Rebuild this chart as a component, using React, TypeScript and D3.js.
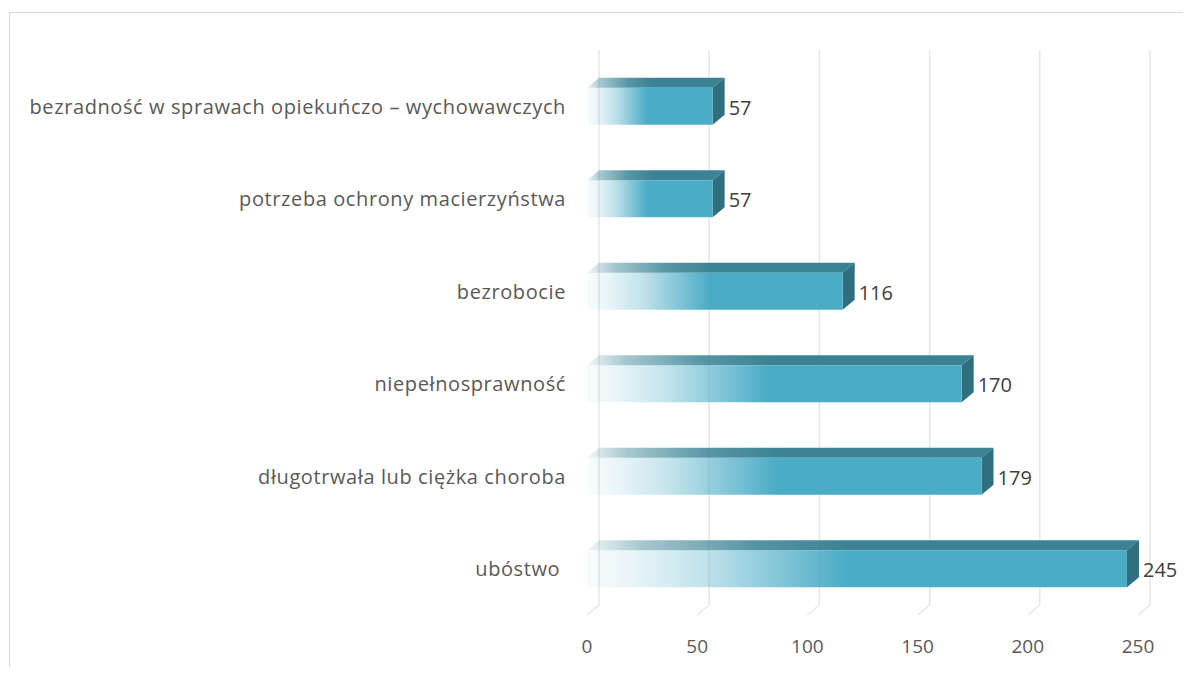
import React from "react";
import * as d3 from "d3";

const categories = [
  "bezradność w sprawach opiekuńczo – wychowawczych",
  "potrzeba ochrony macierzyństwa",
  "bezrobocie",
  "niepełnosprawność",
  "długotrwała lub ciężka choroba",
  "ubóstwo ",
];
const values = [57, 57, 116, 170, 179, 245];
const ticks = [0, 50, 100, 150, 200, 250];

const FRONT = "#4BACC6";
const TOP = "#3A8294";
const SIDE = "#2F6F7F";

export default function App() {
  // page coordinates; svg sits at (8,8)
  const dx = 12;
  const dy = -10;
  const x = d3.scaleLinear().domain([0, 250]).range([587, 1138]);
  const y = d3
    .scaleBand<string>()
    .domain(categories)
    .range([60, 615])
    .paddingInner(0.6)
    .paddingOuter(0.3);
  const bw = y.bandwidth();
  const gridTop = 50;
  const gridBottom = 615;

  return (
    <svg width={1175} height={659} style={{ display: "block" }}>
      <defs>
        <linearGradient id="frontGrad" x1="0" x2="1" y1="0" y2="0">
          <stop offset="0" stopColor={FRONT} stopOpacity={0.04} />
          <stop offset="0.08" stopColor={FRONT} stopOpacity={0.12} />
          <stop offset="0.22" stopColor={FRONT} stopOpacity={0.35} />
          <stop offset="0.36" stopColor={FRONT} stopOpacity={0.7} />
          <stop offset="0.48" stopColor={FRONT} stopOpacity={1} />
          <stop offset="1" stopColor={FRONT} stopOpacity={1} />
        </linearGradient>
        <linearGradient id="topGrad" x1="0" x2="1" y1="0" y2="0">
          <stop offset="0" stopColor={TOP} stopOpacity={0.08} />
          <stop offset="0.1" stopColor={TOP} stopOpacity={0.45} />
          <stop offset="0.3" stopColor={TOP} stopOpacity={0.85} />
          <stop offset="0.48" stopColor={TOP} stopOpacity={1} />
          <stop offset="1" stopColor={TOP} stopOpacity={1} />
        </linearGradient>
      </defs>
      <g transform="translate(-8,-8)">
        <rect x={9.5} y={12.5} width={1300} height={800} fill="#fff" stroke="#D9D9D9" strokeWidth={1} />
        {ticks.map((t) => (
          <path
            key={"g" + t}
            d={`M${x(t) + dx},${gridTop} L${x(t) + dx},${gridBottom + dy} L${x(t)},${gridBottom}`}
            fill="none"
            stroke="#E6E6E6"
            strokeWidth={1.5}
          />
        ))}
        {ticks.map((t) => (
          <text
            key={"t" + t}
            x={x(t)}
            y={646}
            textAnchor="middle"
            dominantBaseline="central"
            fontFamily="'Open Sans', sans-serif"
            fontSize={19}
            fill="#595959"
          >
            {t}
          </text>
        ))}
        {categories.map((c, i) => {
          const top = y(c)!;
          const bot = top + bw;
          const x0 = x(0);
          const xv = x(values[i]);
          return (
            <g key={c}>
              <path
                d={`M${x0},${top} L${x0 + dx},${top + dy} L${xv + dx},${top + dy} L${xv},${top} Z`}
                fill="url(#topGrad)"
              />
              <path
                d={`M${xv},${top} L${xv + dx},${top + dy} L${xv + dx},${bot + dy} L${xv},${bot} Z`}
                fill={SIDE}
              />
              <rect x={x0} y={top} width={xv - x0} height={bw} fill="url(#frontGrad)" />
              <text
                x={566}
                y={top + bw / 2}
                textAnchor="end"
                dominantBaseline="central"
                fontFamily="'Open Sans', sans-serif"
                fontSize={20}
                letterSpacing={0.6}
                fill="#595959"
                style={{ whiteSpace: "pre" }}
              >
                {c}
              </text>
              <text
                x={xv + dx + 4}
                y={top + bw / 2 + 1}
                dominantBaseline="central"
                fontFamily="'Open Sans', sans-serif"
                fontSize={20}
                fill="#404040"
              >
                {values[i]}
              </text>
            </g>
          );
        })}
      </g>
    </svg>
  );
}
